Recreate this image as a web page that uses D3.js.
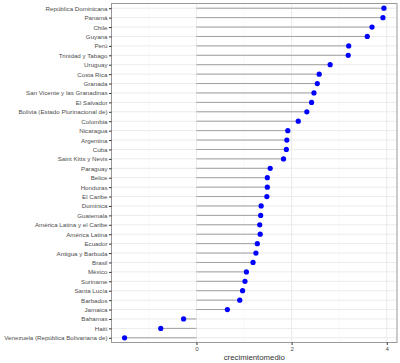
<!DOCTYPE html>
<html>
<head>
<meta charset="utf-8">
<script src="https://cdn.jsdelivr.net/npm/d3@7"></script>
<style>
  body { margin: 0; background: #fff; }
  text { font-family: "Liberation Sans", Arial, sans-serif; }
</style>
</head>
<body>
<div id="plot"></div>
<script>
// countries, top to bottom
const paises = [
  "República Dominicana", "Panamá", "Chile", "Guyana", "Perú", "Trinidad y Tabago",
  "Uruguay", "Costa Rica", "Granada", "San Vicente y las Granadinas", "El Salvador",
  "Bolivia (Estado Plurinacional de)", "Colombia", "Nicaragua", "Argentina", "Cuba",
  "Saint Kitts y Nevis", "Paraguay", "Belice", "Honduras", "El Caribe", "Dominica",
  "Guatemala", "América Latina y el Caribe", "América Latina", "Ecuador",
  "Antigua y Barbuda", "Brasil", "México", "Suriname", "Santa Lucía", "Barbados",
  "Jamaica", "Bahamas", "Haití", "Venezuela (República Bolivariana de)"
];
const crecimientomedio = [
  3.94, 3.92, 3.69, 3.59, 3.20, 3.19,
  2.81, 2.58, 2.54, 2.47, 2.42,
  2.32, 2.14, 1.92, 1.90, 1.89,
  1.83, 1.55, 1.49, 1.49, 1.48, 1.36,
  1.35, 1.33, 1.34, 1.28,
  1.25, 1.19, 1.05, 1.02, 0.97, 0.91,
  0.65, -0.27, -0.75, -1.51
];
const xTicks = [0, 2, 4];
const xMinor = [-1, 1, 3];

function main() {
  const width = 400, height = 363;
  const m = { top: 3.5, right: 3, bottom: 20.5, left: 111.5 };

  const svg = d3.select("#plot").append("svg")
    .attr("width", width)
    .attr("height", height);

  const x = d3.scaleLinear()
    .domain([-1.785, 4.215])
    .range([m.left, width - m.right]);

  const y = d3.scalePoint()
    .domain(paises)
    .range([m.top, height - m.bottom])
    .padding(0.5);

  const data = paises.map((p, i) => ({ pais: p, v: crecimientomedio[i] }));

  // grid
  const grid = svg.append("g");
  grid.selectAll(".minor").data(xMinor).join("line")
    .attr("x1", d => x(d)).attr("x2", d => x(d))
    .attr("y1", m.top).attr("y2", height - m.bottom)
    .attr("stroke", "#f2f2f2").attr("stroke-width", 0.5);
  grid.selectAll(".major").data(xTicks).join("line")
    .attr("x1", d => x(d)).attr("x2", d => x(d))
    .attr("y1", m.top).attr("y2", height - m.bottom)
    .attr("stroke", "#ebebeb").attr("stroke-width", 1);
  grid.selectAll(".hy").data(paises).join("line")
    .attr("x1", m.left).attr("x2", width - m.right)
    .attr("y1", d => y(d)).attr("y2", d => y(d))
    .attr("stroke", "#ebebeb").attr("stroke-width", 1);

  // segments
  svg.append("g").selectAll("line").data(data).join("line")
    .attr("x1", x(0)).attr("x2", d => x(d.v))
    .attr("y1", d => y(d.pais)).attr("y2", d => y(d.pais))
    .attr("stroke", "#a0a0a0").attr("stroke-width", 1);

  // points
  svg.append("g").selectAll("circle").data(data).join("circle")
    .attr("cx", d => x(d.v)).attr("cy", d => y(d.pais))
    .attr("r", 2.6).attr("fill", "#0000ff");

  // panel border
  svg.append("rect")
    .attr("x", m.left).attr("y", m.top)
    .attr("width", width - m.right - m.left)
    .attr("height", height - m.bottom - m.top)
    .attr("fill", "none").attr("stroke", "#999").attr("stroke-width", 1);

  // axes
  const yAxis = svg.append("g")
    .attr("transform", `translate(${m.left},0)`)
    .call(d3.axisLeft(y).tickSize(2.5).tickPadding(1.5));
  yAxis.select(".domain").remove();
  yAxis.selectAll(".tick line").attr("stroke", "#333");
  yAxis.selectAll("text").attr("fill", "#4d4d4d").style("font-size", "6.2px");

  const xAxis = svg.append("g")
    .attr("transform", `translate(0,${height - m.bottom})`)
    .call(d3.axisBottom(x).tickValues(xTicks).tickFormat(d3.format("d"))
      .tickSize(2.5).tickPadding(1.5));
  xAxis.select(".domain").remove();
  xAxis.selectAll(".tick line").attr("stroke", "#333");
  xAxis.selectAll("text").attr("fill", "#4d4d4d").style("font-size", "6.2px");

  svg.append("text")
    .attr("x", (m.left + width - m.right) / 2)
    .attr("y", height - 3.5)
    .attr("text-anchor", "middle")
    .attr("fill", "#333")
    .style("font-size", "7.8px")
    .text("crecimientomedio");
}
window.addEventListener("load", main);
</script>
</body>
</html>
